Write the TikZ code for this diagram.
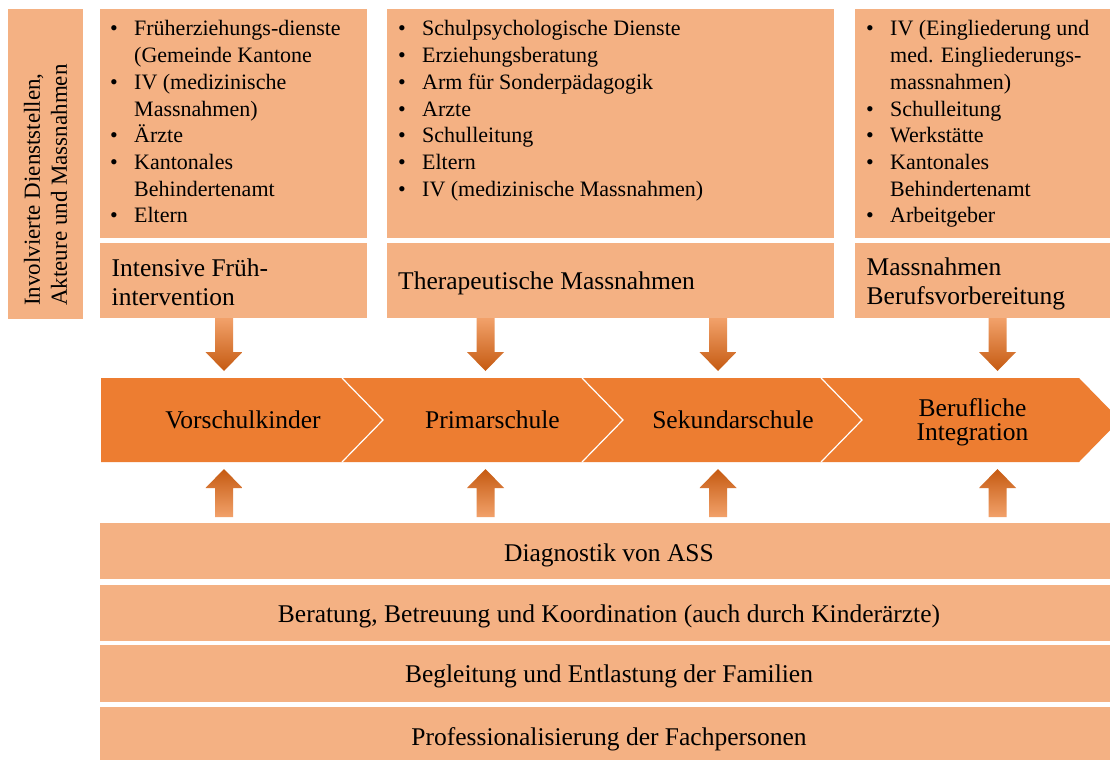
\documentclass[tikz,border=0pt]{standalone}
\usepackage{fontspec}
\setmainfont{Liberation Serif}
\usetikzlibrary{calc}
\definecolor{peach}{HTML}{F4B183}
\definecolor{orng}{HTML}{ED7D31}
\definecolor{darkorng}{HTML}{C55A11}
\newcommand\bul{\makebox[24pt][l]{\textbullet}}
\newcommand\ind{\hspace*{24pt}}
\begin{document}
\begin{tikzpicture}[x=1pt,y=-1pt,
  box/.style={fill=peach, draw=none, anchor=north west, inner sep=0},
  bigtxt/.style={inner sep=0, font=\fontsize{25.5}{28.5}\selectfont},
  listtxt/.style={inner sep=0, anchor=base west, font=\fontsize{22}{26.7}\selectfont},
  chevtxt/.style={inner sep=0, align=center, font=\fontsize{25.5}{24}\selectfont},
  darrow/.style={top color=peach!70!orng, bottom color=darkorng, draw=none},
  uarrow/.style={top color=darkorng, bottom color=peach!70!orng, draw=none},
  divider/.style={draw=white, line width=1.2pt}]
\useasboundingbox (0,0) rectangle (1110,760);
\fill[white] (0,0) rectangle (1110,760);

% left side box
\node[box, minimum width=75, minimum height=310] (side) at (8,9) {};
\node[bigtxt, rotate=90, anchor=west, align=left, font=\fontsize{23}{27}\selectfont] (sidetext) at (45.5,306)
  {Involvierte Dienststellen,\\Akteure und Massnahmen};

% top boxes
\node[box, minimum width=267, minimum height=229] (b1) at (100,9) {};
\node[box, minimum width=267, minimum height=75] (l1) at (100,243) {};
\node[box, minimum width=447, minimum height=229] (b2) at (387,9) {};
\node[box, minimum width=447, minimum height=75] (l2) at (387,243) {};
\node[box, minimum width=255, minimum height=229] (b3) at (855,9) {};
\node[box, minimum width=255, minimum height=75] (l3) at (855,243) {};

\node[listtxt] (t1) at (110,36) {\begin{tabular}[t]{@{}l@{}}
\bul Früherziehungs-dienste\\
\ind(Gemeinde Kantone\\
\bul IV (medizinische\\
\ind Massnahmen)\\
\bul Ärzte\\
\bul Kantonales\\
\ind Behindertenamt\\
\bul Eltern
\end{tabular}};
\node[listtxt] (t2) at (398,36) {\begin{tabular}[t]{@{}l@{}}
\bul Schulpsychologische Dienste\\
\bul Erziehungsberatung\\
\bul Arm für Sonderpädagogik\\
\bul Arzte\\
\bul Schulleitung\\
\bul Eltern\\
\bul IV (medizinische Massnahmen)
\end{tabular}};
\node[listtxt] (t3) at (866,36) {\begin{tabular}[t]{@{}l@{}}
\bul IV (Eingliederung und\\
\ind med. Eingliederungs-\\
\ind massnahmen)\\
\bul Schulleitung\\
\bul Werkstätte\\
\bul Kantonales\\
\ind Behindertenamt\\
\bul Arbeitgeber
\end{tabular}};

\node[bigtxt, anchor=base west] (lt1) at (111.5,276.5) {Intensive Früh-};
\node[bigtxt, anchor=base west] (lt1b) at (111.5,305) {intervention};
\node[bigtxt, anchor=base west] (lt2) at (398,289) {Therapeutische Massnahmen};
\node[bigtxt, anchor=base west] (lt3) at (866.5,275.5) {Massnahmen};
\node[bigtxt, anchor=base west] (lt3b) at (866.5,304) {Berufsvorbereitung};

% chevron band
\begin{scope}
\clip (0,0) rectangle (1110,760);
\fill[orng] (101,378) -- (1079,378) -- (1120,420) -- (1079,462) -- (101,462) -- cycle;
\end{scope}
\draw[divider] (342,378) -- (383,420) -- (342,462);
\draw[divider] (582,378) -- (623,420) -- (582,462);
\draw[divider] (821,378) -- (862,420) -- (821,462);

\node[chevtxt, anchor=base] (c1) at (243,428) {Vorschulkinder};
\node[chevtxt, anchor=base] (c2) at (492.5,428) {Primarschule};
\node[chevtxt, anchor=base] (c3) at (733,428) {Sekundarschule};
\node[chevtxt, anchor=base] (c4a) at (972.5,416.5) {Berufliche};
\node[chevtxt, anchor=base] (c4b) at (972.5,440) {Integration};

% down arrows
\foreach \n/\cx in {d1/224, d2/485.5, d3/718, d4/997.5}{
  \coordinate (\n) at (\cx,318);
  \path[darrow] ($(\n)+(-9,0)$) -- ++(18,0) -- ++(0,34) -- ++(9.5,0) -- ++(-18.5,19) -- ++(-18.5,-19) -- ++(9.5,0) -- cycle;
}
% up arrows
\foreach \n/\cx in {u1/224, u2/485.5, u3/718, u4/997.5}{
  \coordinate (\n) at (\cx,469);
  \path[uarrow] (\n) -- ++(18.5,19) -- ++(-9.5,0) -- ++(0,29) -- ++(-18,0) -- ++(0,-29) -- ++(-9.5,0) -- cycle;
}

% bottom bars
\node[box, minimum width=1010, minimum height=56] (r1) at (100,523) {};
\node[box, minimum width=1010, minimum height=56] (r2) at (100,585) {};
\node[box, minimum width=1010, minimum height=57] (r3) at (100,645) {};
\node[box, minimum width=1010, minimum height=53] (r4) at (100,707) {};
\node[bigtxt, anchor=base] (rt1) at (609,561.5) {Diagnostik von ASS};
\node[bigtxt, anchor=base] (rt2) at (609,622.5) {Beratung, Betreuung und Koordination (auch durch Kinderärzte)};
\node[bigtxt, anchor=base] (rt3) at (609,682.5) {Begleitung und Entlastung der Familien};
\node[bigtxt, anchor=base] (rt4) at (609,745) {Professionalisierung der Fachpersonen};
\end{tikzpicture}
\end{document}
